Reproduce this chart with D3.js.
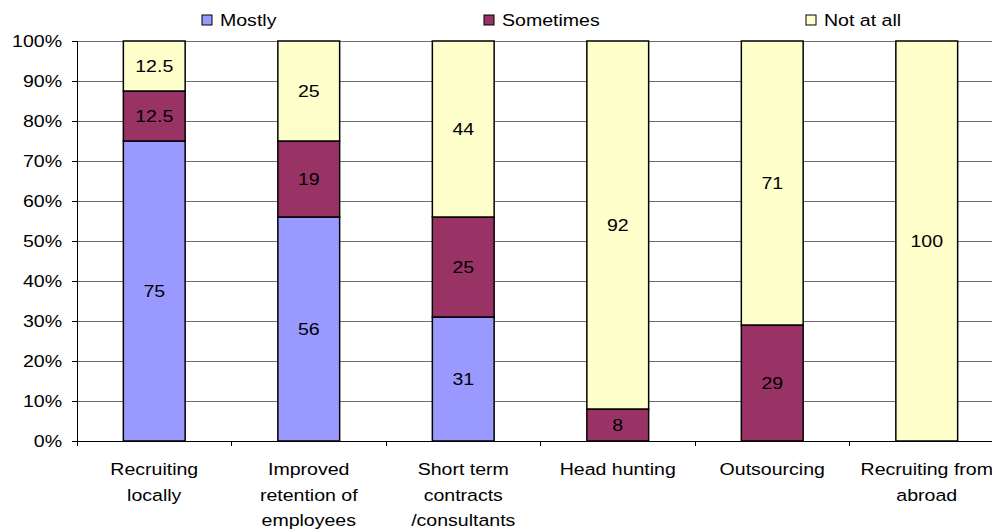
<!DOCTYPE html>
<html><head><meta charset="utf-8">
<script src="https://cdn.jsdelivr.net/npm/d3@7"></script>
<style>body{margin:0;background:#fff}svg{display:block}text{font-family:"Liberation Sans",Arial,sans-serif;fill:#000}</style>
</head><body>
<svg id="c" width="992" height="529"></svg>
<script>
const categories = [
  ["Recruiting","locally"],
  ["Improved","retention of","employees"],
  ["Short term","contracts","/consultants"],
  ["Head hunting"],
  ["Outsourcing"],
  ["Recruiting from","abroad"]
];
const seriesNames = ["Mostly","Sometimes","Not at all"];
const mostly    = [75, 56, 31, 0, 0, 0];
const sometimes = [12.5, 19, 25, 8, 29, 0];
const notAtAll  = [12.5, 25, 44, 92, 71, 100];
const yTicks = [0,10,20,30,40,50,60,70,80,90,100];
const colors = ["#9999FF","#993366","#FFFFCC"];

(function(){
const svg = d3.select("#c");
const pL = 77, pR = 1004, pT = 41, pB = 441;
const keys = categories.map((c,i)=>i);
const x = d3.scaleBand().domain(keys).range([pL,pR]).paddingInner(0.6).paddingOuter(0.3);
const y = d3.scaleLinear().domain([0,100]).range([pB,pT]);
const SX = 1.15, FS = 17;

function txt(g, tx, ty, s, anchor){
  return g.append("text").attr("transform",`translate(${tx},${ty}) scale(${SX},1)`)
    .attr("text-anchor",anchor||"middle").attr("font-size",FS).text(s);
}

// gridlines
svg.append("g").selectAll("line").data(yTicks.filter(t=>t>0)).join("line")
  .attr("x1",pL).attr("x2",992).attr("y1",d=>y(d)).attr("y2",d=>y(d))
  .attr("stroke","#6e6e6e").attr("stroke-width",1).attr("shape-rendering","crispEdges");

// y axis
const yAxis = d3.axisLeft(y).tickValues(yTicks).tickSize(5).tickFormat(d=>d+"%");
const ya = svg.append("g").attr("transform",`translate(${pL},0)`).call(yAxis);
ya.select(".domain").attr("stroke","#000").attr("shape-rendering","crispEdges");
ya.selectAll(".tick line").attr("stroke","#000").attr("shape-rendering","crispEdges");
ya.selectAll(".tick text").remove();
yTicks.forEach(t=>{ txt(svg, 62, y(t)+6, t+"%", "end"); });

// x axis baseline and boundary ticks
svg.append("line").attr("x1",pL).attr("x2",992).attr("y1",pB).attr("y2",pB)
  .attr("stroke","#000").attr("shape-rendering","crispEdges");
const step = x.step();
svg.append("g").selectAll("line").data(d3.range(0,7)).join("line")
  .attr("x1",d=>pL+d*step).attr("x2",d=>pL+d*step).attr("y1",pB).attr("y2",pB+5)
  .attr("stroke","#000").attr("shape-rendering","crispEdges");

// stacked bars
const rows = keys.map(i=>({i, Mostly:mostly[i], Sometimes:sometimes[i], "Not at all":notAtAll[i]}));
const stack = d3.stack().keys(seriesNames)(rows);
stack.forEach((layer,li)=>{
  const g = svg.append("g");
  layer.forEach((d,i)=>{
    const v = d[1]-d[0];
    if(v<=0) return;
    g.append("rect").attr("x",x(i)).attr("width",x.bandwidth())
      .attr("y",y(d[1])).attr("height",y(d[0])-y(d[1]))
      .attr("fill",colors[li]).attr("stroke","#000").attr("stroke-width",1.5);
  });
});
stack.forEach((layer,li)=>{
  layer.forEach((d,i)=>{
    const v = d[1]-d[0];
    if(v<=0) return;
    txt(svg, x(i)+x.bandwidth()/2, (y(d[0])+y(d[1]))/2+6, String(v));
  });
});

// category labels
categories.forEach((lines,i)=>{
  lines.forEach((s,j)=>{ txt(svg, x(i)+x.bandwidth()/2, 475+j*25.5, s); });
});

// legend
const legX = [202, 484, 806];
seriesNames.forEach((n,i)=>{
  svg.append("rect").attr("x",legX[i]).attr("y",15).attr("width",10).attr("height",10)
    .attr("fill",colors[i]).attr("stroke","#000").attr("stroke-width",1);
  txt(svg, legX[i]+18, 26, n, "start");
});
})();
</script>
</body></html>
